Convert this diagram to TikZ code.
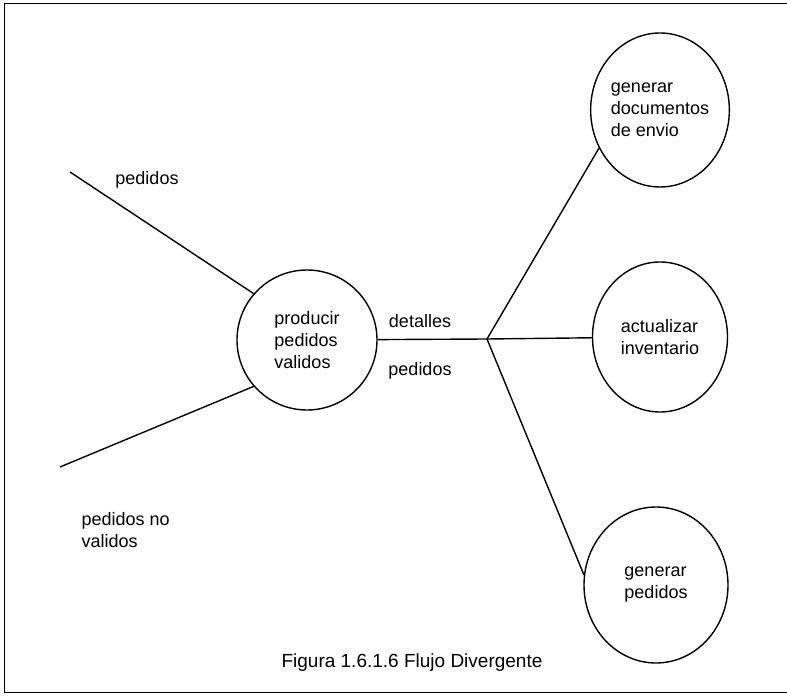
\documentclass[tikz,border=0pt]{standalone}
\usepackage{fontspec}
\setmainfont{Liberation Sans}
\usetikzlibrary{shapes.geometric}

\tikzset{
  proceso/.style={ellipse, draw, line width=1.4pt, inner sep=0pt,
    minimum width=#1, align=left, font=\fontsize{18}{22}\selectfont},
  etiqueta/.style={align=left, font=\fontsize{18}{22}\selectfont},
  flujo/.style={line width=1.4pt}
}

\begin{document}
\begin{tikzpicture}[x=1pt,y=-1pt]
    \useasboundingbox (0,0) rectangle (787,700);
    % marco (sin lado derecho)
    \draw[line width=1pt] (787,4) -- (4,4) -- (4,692) -- (787,692);

    % procesos
    \node[proceso=140pt, minimum height=140pt] (producir) at (307,340) {producir\\pedidos\\validos};
    \node[proceso=134pt, minimum height=154pt] (gendoc) at (660,110) {generar\\documentos\\de envio};
    \node[proceso=135pt, minimum height=150pt] (actualizar) at (660,337) {actualizar\\inventario};
    \node[proceso=144pt, minimum height=156pt] (genped) at (656,585) {generar\\pedidos};

    % extremos libres y punto de division
    \coordinate (entrada) at (70,172);
    \coordinate (salida) at (60,467);
    \coordinate (division) at (487,339);

    % flujos
    \draw[flujo] (entrada) -- (producir.139);
    \draw[flujo] (salida) -- (producir.221);
    \draw[flujo] (producir) -- (division);
    \draw[flujo] (division) -- (gendoc.212);
    \draw[flujo] (division) -- (actualizar);
    \draw[flujo] (division) -- (genped.172);

    % etiquetas de los flujos
    \node[etiqueta] (lblpedidos) at (147,180) {pedidos};
    \node[etiqueta, anchor=west] (lblnovalidos) at (78,530) {pedidos no\\validos};
    \node[etiqueta] (lbldetalles) at (420,321) {detalles};
    \node[etiqueta] (lblpedidos2) at (420,371) {pedidos};

    % titulo
    \node[font=\fontsize{19}{22}\selectfont] (titulo) at (412,663) {Figura 1.6.1.6 Flujo Divergente};
\end{tikzpicture}
\end{document}
